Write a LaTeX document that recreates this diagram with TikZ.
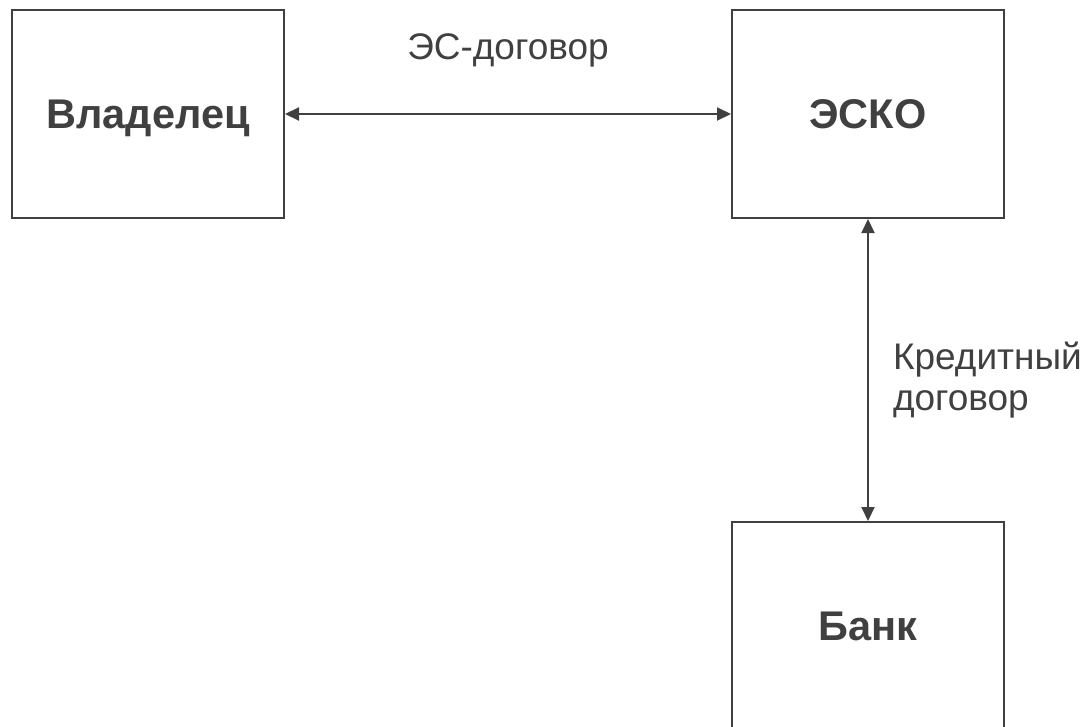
\documentclass[tikz,border=0pt]{standalone}
\usepackage{fontspec}
\setmainfont{Liberation Sans}
\usetikzlibrary{arrows.meta,positioning}
\definecolor{ink}{HTML}{404040}

\begin{document}
\begin{tikzpicture}[
     align=center,
     >={Triangle[length=14pt,width=13pt]},
     every edge/.style={draw=ink,line width=2pt},
     party/.style={rectangle,draw=ink,line width=2pt,text=ink,
       minimum width=272pt,minimum height=208pt,text depth=0pt,
       font=\fontsize{41.5}{46}\selectfont\bfseries},
     deal/.style={text=ink,inner sep=0pt,font=\fontsize{37}{41}\selectfont}]

    \useasboundingbox (0,0) rectangle (1087pt,-726pt);

    \node[party] (vladelec) at (148pt,-114pt) {Владелец};

    \node[party] (esko) [right=446pt of vladelec] {ЭСКО}
      edge [<->] node [deal,above=46pt] {ЭС-договор} (vladelec);

    \node[party] (bank) [below=302pt of esko] {Банк}
      edge [<->] node [deal,right=24pt,yshift=-10pt,align=left] {Кредитный\\договор} (esko);

  \end{tikzpicture}
\end{document}
